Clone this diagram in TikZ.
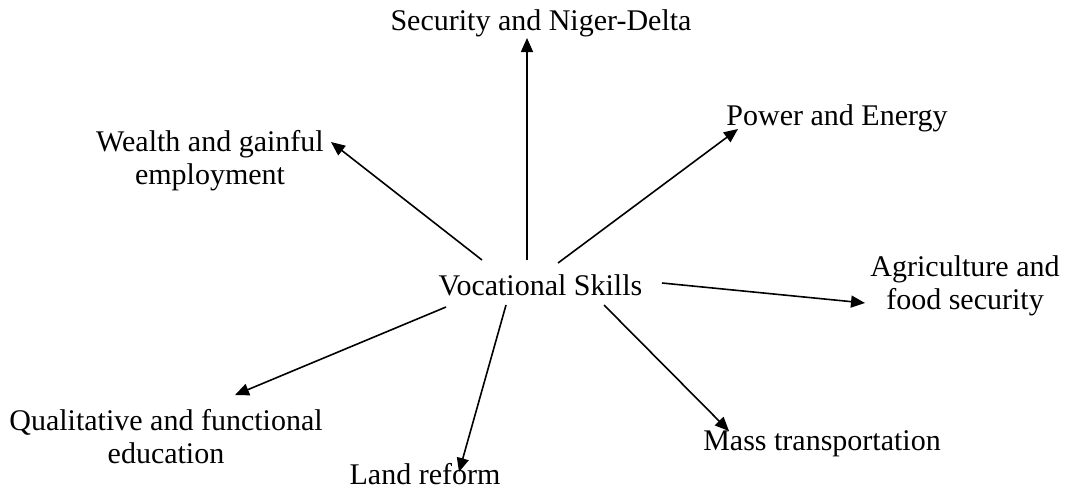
\documentclass[tikz,border=0pt]{standalone}
\usepackage{fontspec}
\setmainfont{Liberation Serif}
\usetikzlibrary{arrows.meta}
\begin{document}
\begin{tikzpicture}[x=1pt,y=-1pt,
  label text/.style={inner sep=0pt, anchor=base, align=center,
    font=\fontsize{30}{33}\selectfont},
  link/.style={line width=1.6pt, -{Triangle[length=14pt,width=12pt]}}]
\useasboundingbox (0,0) rectangle (1065,491);

% centre and surrounding themes (two-line labels are placed by their last baseline)
\node[label text] (vs)   at (540.5,295) {Vocational Skills};
\node[label text] (sec)  at (541,30)    {Security and Niger-Delta};
\node[label text] (wea)  at (210,184)   {Wealth and gainful\\employment};
\node[label text] (pow)  at (837,125)   {Power and Energy};
\node[label text] (agr)  at (965,309)   {Agriculture and\\food security};
\node[label text] (mass) at (822,450)   {Mass transportation};
\node[label text] (land) at (425,484)   {Land reform};
\node[label text] (qual) at (166,463)   {Qualitative and functional\\education};

% arrow ends
\coordinate (vs-sec)  at (527,260);  \coordinate (to-sec)  at (527,38);
\coordinate (vs-wea)  at (482,260);  \coordinate (to-wea)  at (331,142);
\coordinate (vs-pow)  at (558,263);  \coordinate (to-pow)  at (738,129);
\coordinate (vs-agr)  at (662,283);  \coordinate (to-agr)  at (865,303);
\coordinate (vs-mass) at (604,305);  \coordinate (to-mass) at (729,431);
\coordinate (vs-land) at (506,305);  \coordinate (to-land) at (459,472);
\coordinate (vs-qual) at (446,307);  \coordinate (to-qual) at (235,395);

\draw[link] (vs-sec)  -- (to-sec);
\draw[link] (vs-wea)  -- (to-wea);
\draw[link] (vs-pow)  -- (to-pow);
\draw[link] (vs-agr)  -- (to-agr);
\draw[link] (vs-mass) -- (to-mass);
\draw[link] (vs-land) -- (to-land);
\draw[link] (vs-qual) -- (to-qual);
\end{tikzpicture}
\end{document}
